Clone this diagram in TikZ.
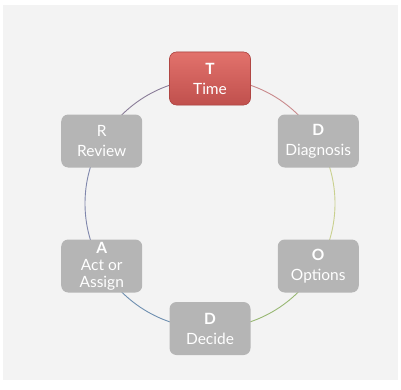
\documentclass[tikz,border=0pt]{standalone}
\usepackage{fontspec}
\setmainfont{Lato}
\definecolor{pagebg}{HTML}{F3F3F3}
\definecolor{boxgray}{HTML}{B5B5B5}
\definecolor{redtop}{HTML}{E2726C}
\definecolor{redbot}{HTML}{C0504D}
\definecolor{redline}{HTML}{B04643}
\definecolor{arcTD}{HTML}{C98A8C}
\definecolor{arcDO}{HTML}{C9D08E}
\definecolor{arcOD}{HTML}{98B873}
\definecolor{arcDA}{HTML}{6E8FB0}
\definecolor{arcAR}{HTML}{7F86AC}
\definecolor{arcRT}{HTML}{8A7C98}
\tikzset{
  stagebox/.style={rectangle, rounded corners=7pt, minimum width=81pt,
    minimum height=53pt, fill=boxgray, text=white, align=center,
    inner sep=2pt, font=\fontsize{15.5}{20}\selectfont},
  activebox/.style={stagebox, draw=redline, line width=0.6pt,
    top color=redtop, bottom color=redbot},
  ring/.style={line width=0.9pt}
}
\begin{document}
\begin{tikzpicture}[x=1pt,y=1pt]
  % page and panel
  \fill[white] (0,0) rectangle (401,389);
  \fill[pagebg] (3,9) rectangle (398,384);
  \useasboundingbox (0,0) rectangle (401,389);

  \coordinate (c) at (210,185.5);
  \def\rad{125}

  % ring segments between the stages
  \draw[ring, arcTD] ([shift={(90:\rad)}]c) arc[start angle=90, end angle=30, radius=\rad];
  \draw[ring, arcDO] ([shift={(30:\rad)}]c) arc[start angle=30, end angle=-30, radius=\rad];
  \draw[ring, arcOD] ([shift={(-30:\rad)}]c) arc[start angle=-30, end angle=-90, radius=\rad];
  \draw[ring, arcDA] ([shift={(-90:\rad)}]c) arc[start angle=-90, end angle=-150, radius=\rad];
  \draw[ring, arcAR] ([shift={(-150:\rad)}]c) arc[start angle=-150, end angle=-210, radius=\rad];
  \draw[ring, arcRT] ([shift={(150:\rad)}]c) arc[start angle=150, end angle=90, radius=\rad];

  % stages
  \node[activebox] (t)  at ([shift={(90:\rad)}]c)   {\textbf{T}\\Time};
  \node[stagebox]  (d1) at ([shift={(30:\rad)}]c)   {\textbf{D}\\Diagnosis};
  \node[stagebox]  (o)  at ([shift={(-30:\rad)}]c)  {\textbf{O}\\Options};
  \node[stagebox]  (d2) at ([shift={(-90:\rad)}]c)  {\textbf{D}\\Decide};
  \node[stagebox, font=\fontsize{15.5}{17}\selectfont] (a) at ([shift={(-150:\rad)}]c) {\textbf{A}\\Act or\\Assign};
  \node[stagebox]  (r)  at ([shift={(150:\rad)}]c)  {R\\Review};
\end{tikzpicture}
\end{document}
